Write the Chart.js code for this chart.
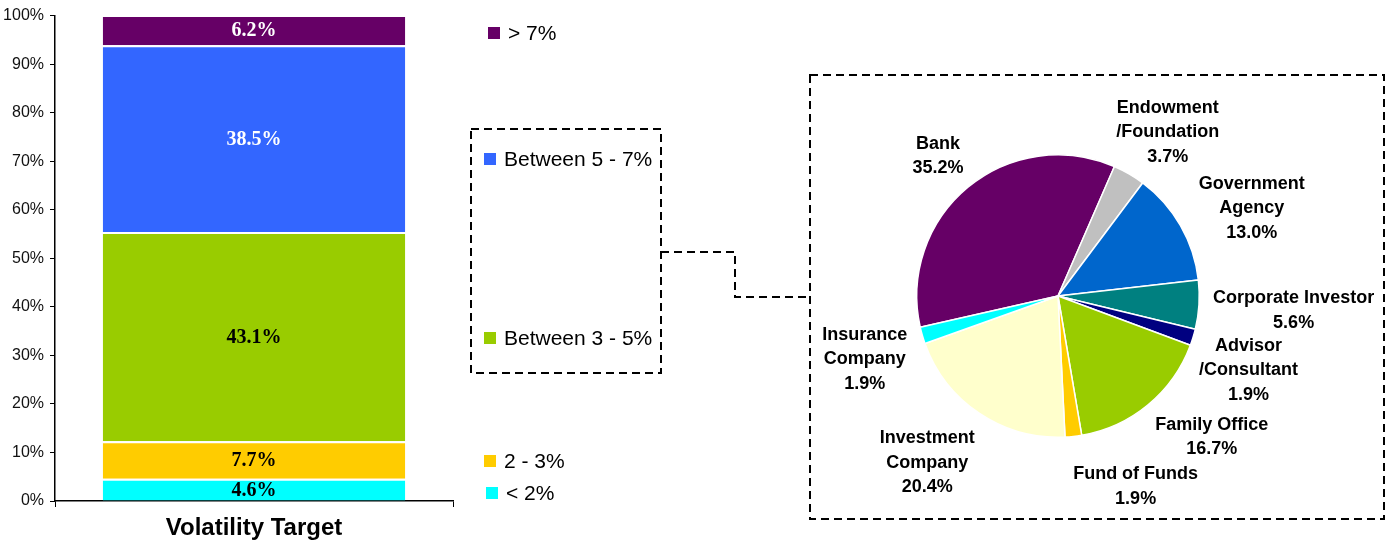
<!DOCTYPE html>
<html>
<head>
<meta charset="utf-8">
<script src="https://cdn.jsdelivr.net/npm/chart.js@4/dist/chart.umd.min.js"></script>
<style>
  body { margin: 0; background: #fff; }
  #wrap { position: relative; width: 1390px; height: 544px; }
  canvas { position: absolute; left: 0; top: 0; }
</style>
</head>
<body>
<div id="wrap">
  <canvas id="bar" width="1390" height="544"></canvas>
  <canvas id="pie" width="1390" height="544"></canvas>
</div>
<script>
// bar data (stacked, bottom to top)
const categories = ['Volatility Target'];
const bandNames = ['< 2%', '2 - 3%', 'Between 3 - 5%', 'Between 5 - 7%', '> 7%'];
const bandValues = [4.6, 7.7, 43.1, 38.5, 6.2];
const yTicks = [0, 10, 20, 30, 40, 50, 60, 70, 80, 90, 100];

// pie data
const investorTypes = ['Bank', 'Endowment /Foundation', 'Government Agency', 'Corporate Investor',
  'Advisor /Consultant', 'Family Office', 'Fund of Funds', 'Investment Company', 'Insurance Company'];
const investorShares = [35.2, 3.7, 13.0, 5.6, 1.9, 16.7, 1.9, 20.4, 1.9];

// styles
const bandColors = ['#00FFFF', '#FFCC00', '#99CC00', '#3366FF', '#660066'];
const bandLabelColors = ['#000', '#000', '#000', '#fff', '#fff'];
const legendY = [493, 461, 338, 159, 33];
const legendX = [486, 484, 484, 484, 488];
const pieColors = ['#660066', '#C0C0C0', '#0066CC', '#008080', '#000080', '#99CC00', '#FFCC00', '#FFFFCC', '#00FFFF'];
const pieLabelLines = [['Bank'], ['Endowment', '/Foundation'], ['Government', 'Agency'], ['Corporate Investor'],
  ['Advisor', '/Consultant'], ['Family Office'], ['Fund of Funds'], ['Investment', 'Company'], ['Insurance', 'Company']];
const pieLabelDist = [185, 198, 213, 236, 204, 208, 205, 211, 203];
const pieLabelNudge = [-0.8, 3.5, 5.3, -0.3, 4, -8, -16, 4.5, -1.6];

const SANS = '"Liberation Sans", Arial, sans-serif';
const SERIF = '"Liberation Serif", "Times New Roman", serif';

function dashed(ctx, pts, close) {
  ctx.beginPath();
  ctx.moveTo(pts[0][0], pts[0][1]);
  for (let i = 1; i < pts.length; i++) ctx.lineTo(pts[i][0], pts[i][1]);
  if (close) ctx.closePath();
  ctx.stroke();
}

const barExtras = {
  id: 'barExtras',
  afterDatasetsDraw(chart) {
    const ctx = chart.ctx;
    ctx.save();
    ctx.font = 'bold 20px ' + SERIF;
    ctx.textAlign = 'center';
    ctx.textBaseline = 'middle';
    chart.data.datasets.forEach((ds, i) => {
      const el = chart.getDatasetMeta(i).data[0];
      ctx.fillStyle = bandLabelColors[i];
      ctx.fillText(ds.data[0].toFixed(1) + '%', el.x, (el.y + el.base) / 2 + 1);
    });
    ctx.restore();
  },
  afterDraw(chart) {
    const ctx = chart.ctx;
    ctx.save();
    // legend
    ctx.font = '21px ' + SANS;
    ctx.textBaseline = 'middle';
    ctx.textAlign = 'left';
    bandNames.forEach((n, i) => {
      ctx.fillStyle = bandColors[i];
      ctx.fillRect(legendX[i], legendY[i] - 6, 12, 12);
      ctx.fillStyle = '#000';
      ctx.fillText(n, legendX[i] + 20, legendY[i] + 1);
    });
    // dashed boxes and connector
    ctx.strokeStyle = '#000';
    ctx.lineWidth = 2;
    ctx.setLineDash([8, 5]);
    dashed(ctx, [[471, 129], [661, 129], [661, 373], [471, 373]], true);
    dashed(ctx, [[661, 252], [735, 252], [735, 297], [810, 297]], false);
    dashed(ctx, [[810, 75], [1384, 75], [1384, 519], [810, 519]], true);
    ctx.restore();
  }
};

new Chart(document.getElementById('bar'), {
  type: 'bar',
  data: {
    labels: categories,
    datasets: bandNames.map((n, i) => ({
      label: n,
      data: [bandValues[i]],
      backgroundColor: bandColors[i],
      borderColor: '#fff',
      borderWidth: { top: 2, bottom: 0, left: 0, right: 0 },
      borderSkipped: false,
      barPercentage: 0.76,
      categoryPercentage: 1
    }))
  },
  options: {
    responsive: false,
    animation: false,
    layout: { padding: { left: 0, right: 937, top: 15, bottom: 0 } },
    plugins: { legend: { display: false }, tooltip: { enabled: false } },
    scales: {
      x: {
        stacked: true,
        afterFit: s => { s.height = 43; },
        grid: { drawOnChartArea: false, tickLength: 6, color: '#000', offset: true },
        border: { color: '#000', width: 1.5 },
        ticks: { color: '#000', padding: 7, font: { family: SANS, size: 24, weight: 'bold' } }
      },
      y: {
        stacked: true,
        min: 0,
        max: 100,
        afterFit: s => { s.width = 55; },
        afterBuildTicks: s => { s.ticks = yTicks.map(v => ({ value: v })); },
        grid: { drawOnChartArea: false, tickLength: 5, color: '#000' },
        border: { color: '#000', width: 1.5 },
        ticks: { color: '#111', padding: 6, font: { family: SANS, size: 16 }, callback: v => v + '%' }
      }
    }
  },
  plugins: [barExtras]
});

const pieLabels = {
  id: 'pieLabels',
  afterDraw(chart) {
    const ctx = chart.ctx;
    const meta = chart.getDatasetMeta(0);
    ctx.save();
    ctx.font = 'bold 18px ' + SANS;
    ctx.fillStyle = '#000';
    ctx.textAlign = 'center';
    ctx.textBaseline = 'middle';
    const lh = 24.5;
    meta.data.forEach((arc, i) => {
      const mid = (arc.startAngle + arc.endAngle) / 2 + pieLabelNudge[i] * Math.PI / 180;
      const cx = arc.x + Math.cos(mid) * pieLabelDist[i];
      const cy = arc.y + Math.sin(mid) * pieLabelDist[i];
      const lines = pieLabelLines[i].concat([investorShares[i].toFixed(1) + '%']);
      const y0 = cy - (lines.length - 1) * lh / 2 + 1;
      lines.forEach((t, k) => ctx.fillText(t, cx, y0 + k * lh));
    });
    ctx.restore();
  }
};

new Chart(document.getElementById('pie'), {
  type: 'pie',
  data: {
    labels: investorTypes,
    datasets: [{
      data: investorShares,
      backgroundColor: pieColors,
      borderColor: '#fff',
      borderWidth: 1.5,
      hoverOffset: 0
    }]
  },
  options: {
    responsive: false,
    animation: false,
    rotation: -102.8,
    layout: { padding: { left: 916, right: 190, top: 154, bottom: 106 } },
    plugins: { legend: { display: false }, tooltip: { enabled: false } }
  },
  plugins: [pieLabels]
});
</script>
</body>
</html>
